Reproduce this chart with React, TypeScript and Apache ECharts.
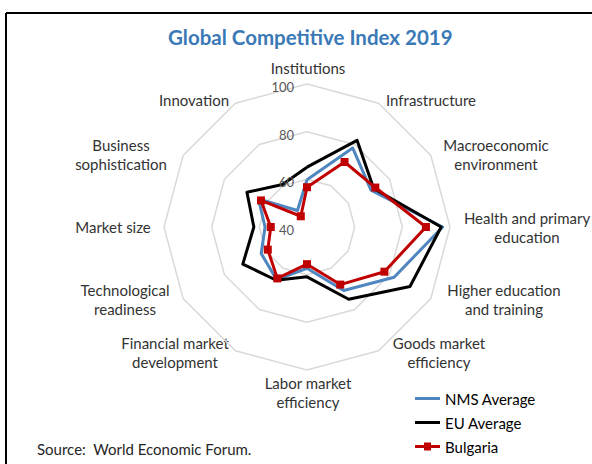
import React, { useEffect, useRef } from "react";
import * as echarts from "echarts";

// ---- data (clockwise from top) ----
const categories = [
  "Institutions",
  "Infrastructure",
  "Macroeconomic\nenvironment",
  "Health and primary\neducation",
  "Higher education\nand training",
  "Goods market\nefficiency",
  "Labor market\nefficiency",
  "Financial market\ndevelopment",
  "Technological\nreadiness",
  "Market size",
  "Business\nsophistication",
  "Innovation",
];
const nmsAverage = [59.8, 78.3, 71.0, 96.9, 82.2, 70.8, 57.3, 65.5, 62.2, 57.6, 63.5, 48.0];
const euAverage = [65.1, 82.0, 72.3, 96.3, 89.9, 75.0, 60.9, 65.8, 71.1, 62.3, 69.1, 60.6];
const bulgaria = [56.7, 71.5, 73.1, 89.9, 77.5, 67.9, 55.6, 64.9, 59.0, 55.2, 62.3, 45.2];
const tickValues = [40, 60, 80, 100];
const axisMin = 40;
const axisMax = 100;

// ---- layout ----
const W = 592;
const H = 464;
const cx = 307;
const cy = 227;
const R = 143;
const FONT = "Lato, 'Open Sans', sans-serif";
// label centres (layout only)
const nameLayout: [number, number][] = [
  [308, 68],
  [431, 100],
  [496, 154],
  [527, 227],
  [504, 299],
  [439, 352],
  [308, 392],
  [175, 352],
  [125, 299],
  [113, 227],
  [121, 154],
  [194, 100],
];

// ECharts radar goes counter-clockwise; reorder to get clockwise layout
const order = [0, ...Array.from({ length: categories.length - 1 }, (_, i) => categories.length - 1 - i)];
const reorder = <T,>(arr: T[]) => order.map((i) => arr[i]);

export default function App() {
  const ref = useRef<HTMLDivElement>(null);
  useEffect(() => {
    if (!ref.current) return;
    const chart = echarts.init(ref.current, undefined, { renderer: "svg" });

    const graphics: any[] = [
      { type: "line", shape: { x1: 6, y1: 13, x2: W, y2: 13 }, style: { stroke: "#000", lineWidth: 2 } },
      { type: "line", shape: { x1: 6, y1: 13, x2: 6, y2: H }, style: { stroke: "#000", lineWidth: 2 } },
      {
        type: "text",
        x: 37,
        y: 449,
        style: {
          text: "Source:  World Economic Forum.",
          fill: "#262626",
          fontSize: 15,
          fontFamily: FONT,
          align: "left",
          verticalAlign: "middle",
          textAlign: "left",
          textVerticalAlign: "middle",
        },
      },
    ];
    tickValues.forEach((t) => {
      graphics.push({
        type: "text",
        x: cx - 13,
        y: cy - (R * (t - axisMin)) / (axisMax - axisMin) + 3,
        z: 10,
        style: {
          text: String(t),
          fill: "#595959",
          fontSize: 13,
          fontFamily: FONT,
          align: "right",
          verticalAlign: "middle",
          textAlign: "right",
          textVerticalAlign: "middle",
        },
      });
    });
    categories.forEach((c, i) => {
      graphics.push({
        type: "text",
        x: nameLayout[i][0],
        y: nameLayout[i][1],
        style: {
          text: c,
          fill: "#333333",
          fontSize: 15,
          lineHeight: 19,
          fontFamily: FONT,
          align: "center",
          verticalAlign: "middle",
          textAlign: "center",
          textVerticalAlign: "middle",
        },
      });
    });

    const lineIcon = "path://M0,3.5 H25 V6.5 H0 Z";
    const markIcon = "path://M0,3.5 H9 V1 H16 V3.5 H25 V6.5 H16 V9 H9 V6.5 H0 Z";

    chart.setOption({
      animation: false,
      backgroundColor: "#ffffff",
      title: {
        text: "Global Competitive Index 2019",
        left: 168,
        top: 26,
        padding: 0,
        textStyle: { fontSize: 20.5, fontWeight: "bold", color: "#3A79B6", fontFamily: FONT },
      },
      legend: {
        orient: "vertical",
        left: 415,
        top: 391,
        itemWidth: 25,
        itemHeight: 10,
        itemGap: 9,
        padding: 0,
        textStyle: { fontSize: 15, color: "#000", fontFamily: FONT },
        data: [
          { name: "NMS Average", icon: lineIcon },
          { name: "EU Average", icon: lineIcon },
          { name: "Bulgaria", icon: markIcon },
        ],
      },
      radar: {
        center: [cx, cy],
        radius: R,
        startAngle: 90,
        splitNumber: 3,
        shape: "polygon",
        indicator: reorder(categories).map((n) => ({ name: n, min: axisMin, max: axisMax })),
        axisName: { show: false },
        axisLine: { show: false },
        axisTick: { show: false },
        axisLabel: { show: false },
        splitArea: { show: false },
        splitLine: { lineStyle: { color: "#d9d9d9", width: 1.5 } },
      },
      graphic: graphics,
      series: [
        {
          type: "radar",
          data: [
            {
              name: "NMS Average",
              value: reorder(nmsAverage),
              symbol: "none",
              lineStyle: { color: "#4F86C0", width: 3 },
              itemStyle: { color: "#4F86C0" },
            },
            {
              name: "EU Average",
              value: reorder(euAverage),
              symbol: "none",
              lineStyle: { color: "#000000", width: 3 },
              itemStyle: { color: "#000000" },
            },
            {
              name: "Bulgaria",
              value: reorder(bulgaria),
              symbol: "rect",
              symbolSize: 8,
              lineStyle: { color: "#C00000", width: 3 },
              itemStyle: { color: "#C00000" },
            },
          ],
        },
      ],
    });
    return () => chart.dispose();
  }, []);
  return (
    <div
      ref={ref}
      style={{ position: "fixed", left: 0, top: 0, width: W, height: H, background: "#fff" }}
    />
  );
}
